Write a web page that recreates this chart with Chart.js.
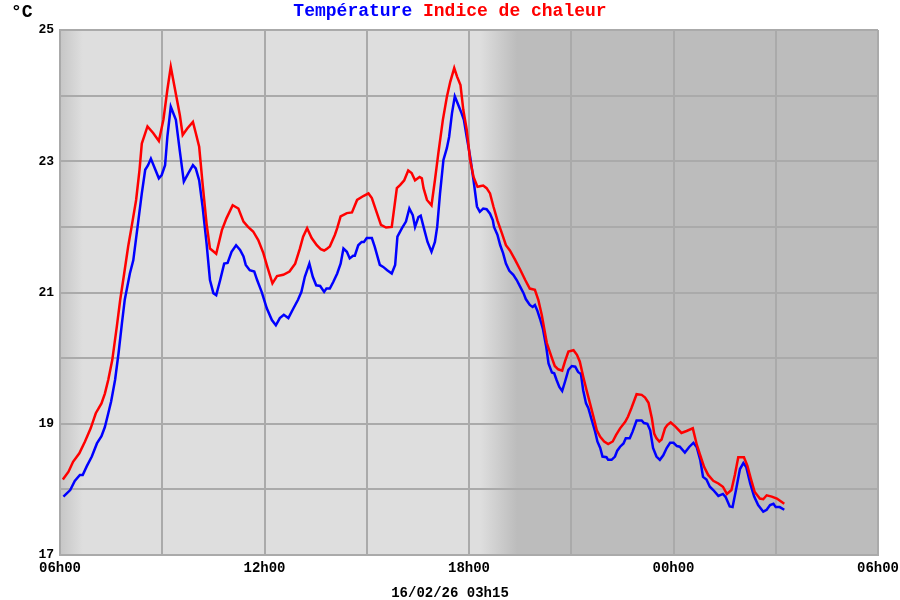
<!DOCTYPE html>
<html lang="fr">
<head>
<meta charset="utf-8">
<title>Température / Indice de chaleur</title>
<script src="https://cdn.jsdelivr.net/npm/chart.js@4.4.1/dist/chart.umd.min.js"></script>
<style>
    html, body { margin: 0; padding: 0; background: #ffffff; }
    #wrap { width: 900px; height: 600px; }
</style>
</head>
<body>
<div id="wrap"><canvas id="meteoChart" width="900" height="600"></canvas></div>
<script>
// --- Données (minutes après 06h00) ---
const startHour = 6;
const unitLabel = "°C";
const tempLabel = "Température";
const heatLabel = "Indice de chaleur";
const dateLabel = "16/02/26 03h15";

const tempMinutes = [6, 18, 26, 35, 40, 47, 56, 65, 73, 79, 85, 90, 97, 103, 109, 114, 123, 129, 138, 144,
    150, 155, 160, 167, 174, 179, 185, 189, 195, 204, 211, 218, 226, 234, 239, 245, 251, 258, 264, 270,
    275, 282, 289, 295, 302, 310, 317, 323, 327, 334, 342, 347, 355, 364, 373, 380, 387, 394, 402, 411,
    419, 425, 431, 439, 445, 451, 458, 465, 469, 475, 481, 488, 494, 499, 505, 510, 516, 519, 525, 531,
    535, 540, 549, 554, 563, 569, 576, 584, 590, 594, 602, 609, 615, 621, 625, 631, 635, 640, 647, 654,
    660, 664, 669, 675, 681, 685, 690, 695, 701, 707, 711, 716, 722, 728, 734, 739, 745, 751, 757, 762,
    764, 770, 775, 780, 785, 791, 798, 804, 810, 816, 820, 827, 832, 836, 840, 845, 850, 856, 860, 866,
    870, 874, 879, 884, 889, 895, 901, 907, 912, 917, 921, 926, 930, 936, 942, 946, 951, 955, 962, 965,
    971, 977, 981, 986, 992, 996, 1003, 1008, 1015, 1024, 1028, 1034, 1039, 1044, 1050, 1056, 1062, 1068, 1074, 1080,
    1086, 1091, 1100, 1108, 1115, 1121, 1127, 1132, 1138, 1144, 1150, 1159, 1167, 1172, 1179, 1184, 1190, 1197, 1203, 1208,
    1215, 1222, 1229, 1238, 1244, 1250, 1256, 1260, 1267, 1275];
const tempValues = [17.89, 17.99, 18.13, 18.22, 18.22, 18.35, 18.50, 18.70, 18.81, 18.95, 19.16, 19.34, 19.67, 20.07, 20.53, 20.89, 21.29, 21.49, 22.10, 22.51,
    22.87, 22.94, 23.04, 22.89, 22.74, 22.79, 22.94, 23.37, 23.83, 23.63, 23.15, 22.69, 22.82, 22.94, 22.89, 22.71, 22.31, 21.75, 21.19, 20.99,
    20.96, 21.19, 21.44, 21.45, 21.62, 21.72, 21.65, 21.55, 21.42, 21.34, 21.32, 21.19, 21.01, 20.76, 20.58, 20.50, 20.61, 20.66, 20.61, 20.76,
    20.89, 21.01, 21.24, 21.44, 21.24, 21.11, 21.10, 21.01, 21.06, 21.06, 21.16, 21.29, 21.44, 21.67, 21.62, 21.52, 21.56, 21.56, 21.72, 21.77,
    21.77, 21.83, 21.83, 21.70, 21.42, 21.39, 21.34, 21.29, 21.42, 21.85, 21.98, 22.08, 22.28, 22.18, 22.00, 22.15, 22.17, 22.00, 21.77, 21.62,
    21.77, 22.00, 22.51, 23.02, 23.20, 23.37, 23.73, 23.99, 23.86, 23.73, 23.63, 23.37, 23.07, 22.71, 22.31, 22.23, 22.28, 22.27, 22.20, 22.10,
    22.00, 21.88, 21.72, 21.60, 21.44, 21.33, 21.27, 21.19, 21.09, 20.99, 20.90, 20.81, 20.78, 20.81, 20.73, 20.60, 20.45, 20.17, 19.92, 19.78,
    19.77, 19.67, 19.56, 19.50, 19.64, 19.82, 19.88, 19.87, 19.79, 19.76, 19.51, 19.31, 19.24, 19.06, 18.88, 18.73, 18.63, 18.50, 18.49, 18.45,
    18.45, 18.50, 18.59, 18.65, 18.70, 18.78, 18.78, 18.88, 19.05, 19.05, 19.01, 19.00, 18.90, 18.63, 18.50, 18.45, 18.52, 18.63, 18.71, 18.71,
    18.66, 18.65, 18.56, 18.65, 18.71, 18.64, 18.45, 18.19, 18.15, 18.04, 17.99, 17.90, 17.93, 17.88, 17.74, 17.73, 17.99, 18.31, 18.40, 18.34,
    18.09, 17.89, 17.76, 17.66, 17.69, 17.76, 17.78, 17.73, 17.73, 17.69];

const heatMinutes = [5, 15, 23, 34, 44, 54, 63, 73, 79, 85, 92, 100, 106, 113, 120, 126, 134, 140, 144, 154,
    164, 174, 182, 189, 195, 205, 211, 216, 224, 234, 239, 245, 251, 258, 264, 275, 285, 293, 304, 314,
    323, 331, 340, 349, 358, 365, 374, 382, 393, 404, 414, 422, 428, 435, 443, 452, 459, 465, 469, 475,
    484, 488, 494, 505, 514, 523, 534, 543, 549, 556, 565, 574, 584, 593, 599, 606, 613, 619, 625, 633,
    637, 640, 646, 654, 660, 666, 674, 681, 687, 694, 699, 705, 710, 716, 722, 728, 735, 739, 745, 751,
    757, 763, 770, 778, 785, 792, 801, 810, 819, 827, 836, 842, 848, 857, 866, 871, 877, 884, 889, 895,
    904, 910, 915, 921, 927, 933, 939, 945, 951, 958, 965, 973, 979, 986, 995, 1000, 1006, 1015, 1024, 1030,
    1036, 1042, 1046, 1050, 1055, 1059, 1065, 1069, 1075, 1083, 1094, 1103, 1114, 1121, 1127, 1134, 1141, 1150, 1159, 1167,
    1174, 1182, 1188, 1194, 1204, 1210, 1216, 1223, 1232, 1238, 1244, 1253, 1262, 1270, 1275];
const heatValues = [18.15, 18.27, 18.42, 18.55, 18.73, 18.93, 19.16, 19.31, 19.46, 19.67, 19.97, 20.48, 20.89, 21.29, 21.70, 22.00, 22.41, 22.87, 23.27, 23.53,
    23.43, 23.31, 23.63, 24.09, 24.44, 23.98, 23.70, 23.40, 23.50, 23.60, 23.43, 23.22, 22.66, 22.05, 21.67, 21.59, 21.95, 22.13, 22.33, 22.28,
    22.08, 22.00, 21.93, 21.80, 21.60, 21.39, 21.14, 21.25, 21.27, 21.32, 21.44, 21.66, 21.85, 21.98, 21.83, 21.72, 21.66, 21.64, 21.66, 21.70,
    21.88, 21.98, 22.16, 22.21, 22.22, 22.41, 22.47, 22.51, 22.44, 22.26, 22.03, 21.99, 22.00, 22.59, 22.64, 22.71, 22.86, 22.82, 22.71, 22.76,
    22.74, 22.59, 22.41, 22.33, 22.71, 23.12, 23.63, 23.98, 24.21, 24.42, 24.29, 24.16, 23.78, 23.48, 23.02, 22.76, 22.61, 22.62, 22.63, 22.59,
    22.51, 22.31, 22.10, 21.90, 21.72, 21.64, 21.50, 21.35, 21.19, 21.06, 21.04, 20.89, 20.66, 20.23, 20.00, 19.88, 19.83, 19.81, 19.95, 20.10,
    20.12, 20.05, 19.95, 19.72, 19.51, 19.31, 19.11, 18.90, 18.80, 18.73, 18.69, 18.73, 18.83, 18.93, 19.03, 19.11, 19.24, 19.45, 19.44, 19.40,
    19.32, 19.08, 18.85, 18.78, 18.73, 18.76, 18.93, 18.98, 19.02, 18.96, 18.86, 18.89, 18.93, 18.68, 18.52, 18.34, 18.22, 18.13, 18.09, 18.04,
    17.93, 17.99, 18.22, 18.49, 18.49, 18.36, 18.17, 17.96, 17.86, 17.85, 17.91, 17.89, 17.86, 17.81, 17.78];

// Axes
const xMin = 0, xMax = 1440, xStep = 180, xLabelStep = 360;
const yMin = 17, yMax = 25, yStep = 1;

// Jour / nuit (minutes après 06h00)
const dawnEnd = 40;
const duskStart = 740;
const duskEnd = 805;

const tempColor = "#0000ff";
const heatColor = "#ff0000";
const fontFamily = '"Liberation Mono", "DejaVu Sans Mono", monospace';

document.addEventListener("DOMContentLoaded", () => {
    initChart();
});

function hourLabel(minutes) {
    const h = (startHour + Math.round(minutes / 60)) % 24;
    return String(h).padStart(2, "0") + "h00";
}

// Fond gris clair le jour, plus foncé la nuit
const dayNightPlugin = {
    id: "dayNight",
    beforeDraw(chart) {
        const { ctx, chartArea: a } = chart;
        const g = ctx.createLinearGradient(a.left, 0, a.right, 0);
        g.addColorStop(0, "#c6c6c6");
        g.addColorStop(dawnEnd / xMax, "#dedede");
        g.addColorStop(duskStart / xMax, "#dedede");
        g.addColorStop(duskEnd / xMax, "#bcbcbc");
        g.addColorStop(1, "#bcbcbc");
        ctx.save();
        ctx.fillStyle = g;
        ctx.fillRect(a.left, a.top, a.right - a.left, a.bottom - a.top);
        ctx.restore();
    }
};

// Unité, titre bicolore et date
const textPlugin = {
    id: "chartTexts",
    afterDraw(chart) {
        const ctx = chart.ctx;
        const cx = chart.width / 2;
        ctx.save();
        ctx.textBaseline = "alphabetic";
        ctx.font = "bold 18px " + fontFamily;
        ctx.textAlign = "left";
        ctx.fillStyle = "#000000";
        ctx.fillText(unitLabel, 11, 17);

        const gap = ctx.measureText(" ").width;
        const w1 = ctx.measureText(tempLabel).width;
        const w2 = ctx.measureText(heatLabel).width;
        const x0 = cx - (w1 + gap + w2) / 2;
        ctx.fillStyle = tempColor;
        ctx.fillText(tempLabel, x0, 16);
        ctx.fillStyle = heatColor;
        ctx.fillText(heatLabel, x0 + w1 + gap, 16);

        ctx.font = "bold 14px " + fontFamily;
        ctx.textAlign = "center";
        ctx.fillStyle = "#000000";
        ctx.fillText(dateLabel, cx, 597);
        ctx.restore();
    }
};

function initChart() {
    const ctx = document.getElementById("meteoChart").getContext("2d");

    const tempPoints = tempMinutes.map((m, i) => ({ x: m, y: tempValues[i] }));
    const heatPoints = heatMinutes.map((m, i) => ({ x: m, y: heatValues[i] }));

    new Chart(ctx, {
        type: "line",
        data: {
            datasets: [
                {
                    label: tempLabel,
                    data: tempPoints,
                    borderColor: tempColor,
                    borderWidth: 2.5,
                    pointRadius: 0,
                    tension: 0,
                    fill: false,
                    order: 1
                },
                {
                    label: heatLabel,
                    data: heatPoints,
                    borderColor: heatColor,
                    borderWidth: 2.5,
                    pointRadius: 0,
                    tension: 0,
                    fill: false,
                    order: 0
                }
            ]
        },
        options: {
            responsive: false,
            animation: false,
            devicePixelRatio: 1,
            layout: { padding: { top: 30, right: 22, left: 0, bottom: 0 } },
            plugins: {
                legend: { display: false },
                tooltip: { enabled: false }
            },
            scales: {
                x: {
                    type: "linear",
                    min: xMin,
                    max: xMax,
                    afterFit: (scale) => {
                        scale.height = 45;
                        // le libellé "06h00" de droite ne doit pas réduire la zone du graphe
                        scale.paddingLeft = 0;
                        scale.paddingRight = 0;
                    },
                    grid: { color: "#aaaaaa", lineWidth: 2, drawTicks: false },
                    border: { color: "#aaaaaa", width: 2 },
                    ticks: {
                        stepSize: xStep,
                        padding: 5,
                        maxRotation: 0,
                        autoSkip: false,
                        color: "#000000",
                        font: { family: fontFamily, size: 14, weight: "bold" },
                        callback: (v) => (v % xLabelStep === 0 ? hourLabel(v) : "")
                    }
                },
                y: {
                    min: yMin,
                    max: yMax,
                    afterFit: (scale) => {
                        scale.width = 60;
                        scale.paddingTop = 0;
                        scale.paddingBottom = 0;
                    },
                    grid: { color: "#aaaaaa", lineWidth: 2, drawTicks: false },
                    border: { color: "#aaaaaa", width: 2 },
                    ticks: {
                        stepSize: yStep,
                        padding: 6,
                        color: "#000000",
                        font: { family: fontFamily, size: 13, weight: "bold" },
                        callback: (v) => (v % 2 === 1 ? String(v) : "")
                    }
                }
            }
        },
        plugins: [dayNightPlugin, textPlugin]
    });
}
</script>
</body>
</html>
